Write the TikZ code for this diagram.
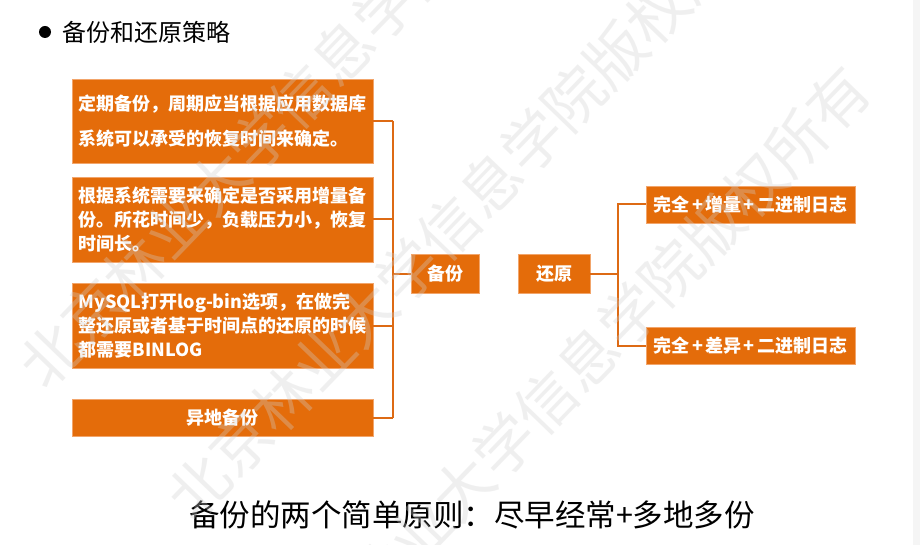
\documentclass[tikz,border=0pt]{standalone}
\usepackage{fontspec}
\setmainfont{Noto Sans CJK SC}
\definecolor{boxor}{HTML}{E46C0A}
\definecolor{boxedge}{HTML}{F2A56B}
\definecolor{lineor}{HTML}{DD6A14}
\definecolor{wm}{HTML}{D0D0D0}
\newcommand{\pl}{\kern2.5pt+\kern2.5pt}
\begin{document}
\begin{tikzpicture}[x=1pt,y=-1pt,
  box/.style={fill=boxor, draw=boxedge, line width=0.6pt, text=white,
    font=\bfseries\fontsize{18}{24}\selectfont, inner sep=0pt},
  conn/.style={draw=lineor, line width=2pt},
  wmark/.style={text=wm, text opacity=0.32, rotate=46,
    font=\fontsize{60}{62}\selectfont, inner sep=0pt}]
\fill[white] (0,0) rectangle (920,545);
\useasboundingbox (0,0) rectangle (920,545);
\fill[gray!8] (913,0) rectangle (920,545);

% title
\node[circle, fill=black, minimum size=12pt, inner sep=0pt] (bullet) at (45,32) {};
\node[anchor=west, font=\fontsize{24}{28}\selectfont, inner sep=0pt] (title) at (62,32) {备份和还原策略};

% left boxes
\node[box, minimum width=301, minimum height=84, align=left] (b1) at (222.5,121)
  {定期备份，周期应当根据应用数据库\\[11pt]系统可以承受的恢复时间来确定。};
\node[box, minimum width=301, minimum height=85, align=left] (b2) at (222.5,219.5)
  {根据系统需要来确定是否采用增量备\\份。所花时间少，负载压力小，恢复\\时间长。};
\node[box, minimum width=301, minimum height=85, align=left] (b3) at (222.5,325.5)
  {MySQL打开log-bin选项，在做完\\整还原或者基于时间点的还原的时候\\都需要BINLOG};
\node[box, minimum width=301, minimum height=37] (b4) at (222.5,417.5) {异地备份};

% center boxes
\node[box, minimum width=68, minimum height=39] (bk) at (445,273.5) {备份};
\node[box, minimum width=72, minimum height=39] (hy) at (554,273.5) {还原};

% right boxes
\node[box, minimum width=209, minimum height=37] (r1) at (750.5,204.5) {完全\pl 增量\pl 二进制日志};
\node[box, minimum width=209, minimum height=37] (r2) at (750.5,345.5) {完全\pl 差异\pl 二进制日志};

% connectors
\coordinate (bx) at (393,0);
\coordinate (rx) at (618,0);
\draw[conn] (b1.east) -- (b1.east -| bx);
\draw[conn] (b2.east) -- (b2.east -| bx);
\draw[conn] (b3.east) -- (b3.east -| bx);
\draw[conn] (b4.east) -- (b4.east -| bx);
\draw[conn] (b1.east -| bx) -- (b4.east -| bx);
\draw[conn] (bk.west) -- (bk.west -| bx);
\draw[conn] (hy.east) -- (hy.east -| rx);
\draw[conn] (r1.west) -- (r1.west -| rx) -- (r2.west -| rx) -- (r2.west);

% bottom text
\node[font=\fontsize{30.5}{34}\selectfont, inner sep=0pt] (rule) at (472,515)
  {备份的两个简单原则：尽早经常+多地多份};

% watermark
\node[wmark] (wm1) at (322,74) {北京林业大学信息学院版权所有};
\node[wmark] (wm2) at (470,206) {北京林业大学信息学院版权所有};
\node[wmark] (wm3) at (567,380) {北京林业大学信息学院版权所有};
\end{tikzpicture}
\end{document}
